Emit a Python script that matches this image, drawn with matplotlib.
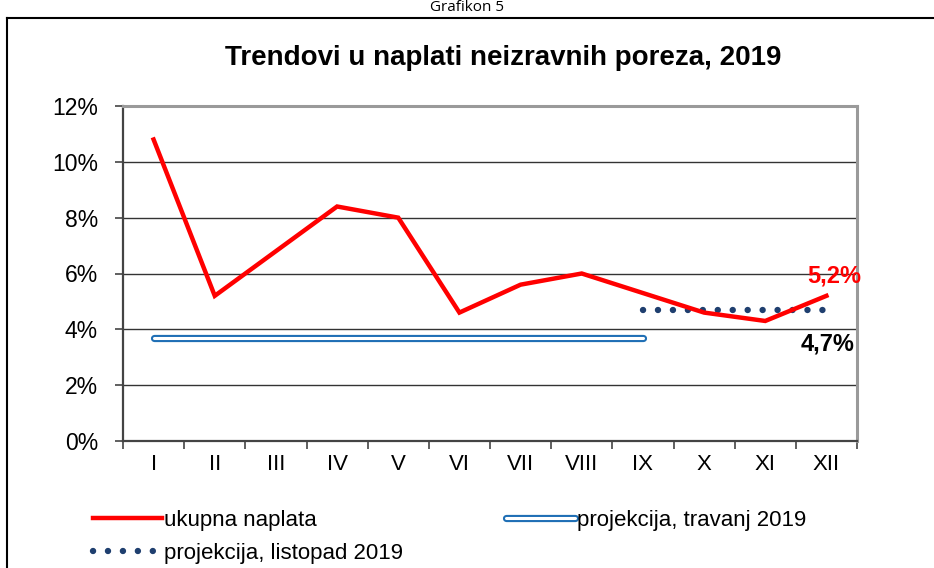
import matplotlib.pyplot as plt
import matplotlib.patheffects as pe
from matplotlib.lines import Line2D

plt.rcParams['font.family'] = ['Liberation Sans', 'DejaVu Sans']

# podaci
mjeseci = ['I', 'II', 'III', 'IV', 'V', 'VI', 'VII', 'VIII', 'IX', 'X', 'XI', 'XII']
ukupna_naplata = [10.8, 5.2, 6.8, 8.4, 8.0, 4.6, 5.6, 6.0, 5.3, 4.6, 4.3, 5.2]
projekcija_travanj = [3.7] * 9            # I - IX
projekcija_listopad = [4.7] * 4           # IX - XII
yticks = [0, 2, 4, 6, 8, 10, 12]

fig = plt.figure(figsize=(9.34, 5.68), dpi=100)
ax = fig.add_axes([123 / 934, 1 - 441 / 568, 734 / 934, 335 / 568])

x = list(range(len(mjeseci)))

ax.plot(x, ukupna_naplata, color='#ff0000', lw=3.2, solid_joinstyle='miter',
        label='ukupna naplata', zorder=4)
ax.plot(x[:9], projekcija_travanj, color='white', lw=2.2, solid_capstyle='round',
        path_effects=[pe.Stroke(linewidth=5.2, foreground='#1f6fb5', capstyle='round'), pe.Normal()],
        label='projekcija, travanj 2019', zorder=3)
ax.plot(x[8:], projekcija_listopad, color='#1f3f6f', lw=4.6, linestyle=(0, (0.01, 2.33)),
        dash_capstyle='round', label='projekcija, listopad 2019', zorder=3)

ax.text(x[-1] + 0.12, ukupna_naplata[-1] + 0.3, '5,2%', color='#ff0000', fontsize=17,
        fontweight='bold', ha='center', va='bottom')
ax.text(x[-1] + 0.02, projekcija_listopad[-1] - 0.8, '4,7%', color='black', fontsize=17,
        fontweight='bold', ha='center', va='top')

ax.set_xlim(-0.5, len(mjeseci) - 0.5)
ax.set_ylim(0, 12)
ax.set_yticks(yticks)
ax.set_yticklabels([f'{v}%' for v in yticks])
ax.set_xticks(x)
ax.set_xticklabels(mjeseci)
ax.set_xticks([i - 0.5 for i in range(len(mjeseci) + 1)], minor=True)
ax.tick_params(axis='x', which='major', length=0, pad=9, labelsize=16)
ax.tick_params(axis='x', which='minor', length=6, width=1.2, color='#444444', direction='out')
ax.tick_params(axis='y', length=6, width=1.2, color='#444444', pad=12, labelsize=16.5)

ax.grid(axis='y', color='#333333', lw=1.0)
ax.set_axisbelow(True)
for s in ['left', 'bottom']:
    ax.spines[s].set_color('#444444')
    ax.spines[s].set_linewidth(1.6)
for s in ['top', 'right']:
    ax.spines[s].set_color('#9a9a9a')
    ax.spines[s].set_linewidth(2.2)

fig.text(503 / 934, 1 - 58 / 568, 'Trendovi u naplati neizravnih poreza, 2019',
         ha='center', va='center', fontsize=20, fontweight='bold')
fig.text(467 / 934, 1.0, 'Grafikon 5', ha='center', va='top', fontsize=11,
         family=['Open Sans', 'DejaVu Sans'])

# okvir
fig.add_artist(Line2D([7 / 934, 7 / 934], [0, 1 - 18 / 568], color='black', lw=1.5))
fig.add_artist(Line2D([7 / 934, 1], [1 - 18 / 568, 1 - 18 / 568], color='black', lw=1.5))

h, l = ax.get_legend_handles_labels()
fig.legend([h[0], h[2], h[1]], [l[0], l[2], l[1]], ncol=2, frameon=False,
           loc='upper left', bbox_to_anchor=(84 / 934, 1 - 501 / 568),
           fontsize=16, handlelength=3.1, handletextpad=0.1, columnspacing=4.65,
           labelspacing=0.55, borderaxespad=0)

fig.savefig('out.png', dpi=100)
